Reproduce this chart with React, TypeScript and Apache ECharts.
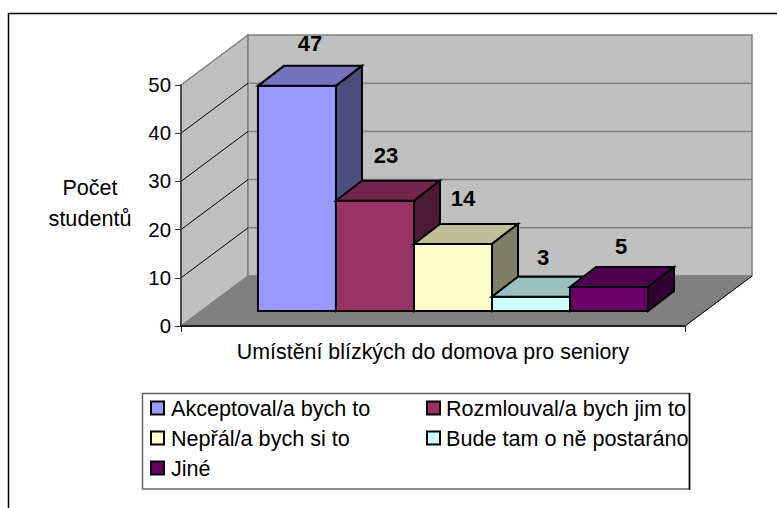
import React, { useEffect, useRef } from "react";
import * as echarts from "echarts";

const FONT = "'Liberation Sans', Arial, sans-serif";
const seriesNames = [
  "Akceptoval/a bych to",
  "Rozmlouval/a bych jim to",
  "Nepřál/a bych si to",
  "Bude tam o ně postaráno",
  "Jiné",
];
const seriesValues = [47, 23, 14, 3, 5];
const seriesColors = ["#9999FF", "#993366", "#FFFFCC", "#CCFFFF", "#660066"];
const categories = ["Umístění blízkých do domova pro seniory"];
const yAxisTitle = "Počet\nstudentů";
const yTickLines = [10, 20, 30, 40];

const WALL_DX = 67;
const WALL_DY = -50;
const BAR_DX = 26;
const BAR_DY = -20;

function shade(hex: string, f: number) {
  const n = parseInt(hex.slice(1), 16);
  const r = Math.round(((n >> 16) & 255) * f);
  const g = Math.round(((n >> 8) & 255) * f);
  const b = Math.round((n & 255) * f);
  return `rgb(${r},${g},${b})`;
}

function poly(points: number[][], fill: string, stroke: string, lineWidth: number) {
  return {
    type: "polygon",
    shape: { points },
    style: { fill, stroke, lineWidth, lineJoin: "miter" },
  };
}

function line(x1: number, y1: number, x2: number, y2: number, stroke: string, lineWidth = 1) {
  return { type: "line", shape: { x1, y1, x2, y2 }, style: { stroke, lineWidth, fill: "none" } };
}

const labelOffsets = [[0, -22], [-2, -25], [-3, -25], [-1, -19], [-1, -21]];

function legendBlock(left: number, data: string[], pad: number) {
  return {
    left,
    top: 397,
    orient: "vertical",
    data,
    itemWidth: 13,
    itemHeight: 13,
    itemGap: 8,
    selectedMode: false,
    icon: "rect",
    itemStyle: { borderColor: "#000", borderWidth: 2 },
    textStyle: { fontSize: 21.6, lineHeight: 22, color: "#000", fontFamily: FONT, padding: [0, 0, 0, pad] },
    padding: 0,
  };
}

function App() {
  const ref = useRef<HTMLDivElement>(null);
  useEffect(() => {
    const chart = echarts.init(ref.current!, null, { renderer: "svg" });
    const wallsSeries = {
      type: "custom",
      name: "walls",
      coordinateSystem: "cartesian2d",
      xAxisIndex: 0,
      yAxisIndex: 0,
      z: 1,
      silent: true,
      data: [[0, 50]],
      renderItem: (_p: any, api: any) => {
        const band = api.size([1, 0])[0];
        const top = api.coord([0, 50]);
        const bot = api.coord([0, 0]);
        const xL = top[0] - band / 2;
        const xR = top[0] + band / 2;
        const yT = top[1];
        const yB = bot[1];
        const children: any[] = [
          poly([[xL, yT], [xL + WALL_DX, yT + WALL_DY], [xL + WALL_DX, yB + WALL_DY], [xL, yB]], "#C0C0C0", "#808080", 1.5),
          poly([[xL + WALL_DX, yT + WALL_DY], [xR + WALL_DX, yT + WALL_DY], [xR + WALL_DX, yB + WALL_DY], [xL + WALL_DX, yB + WALL_DY]], "#C0C0C0", "#808080", 1.5),
          poly([[xL, yB], [xL + WALL_DX, yB + WALL_DY], [xR + WALL_DX, yB + WALL_DY], [xR, yB]], "#808080", "#808080", 1),
          line(xR, yB, xR + WALL_DX, yB + WALL_DY, "#000", 1),
        ];
        yTickLines.forEach((v) => {
          const y = api.coord([0, v])[1];
          children.push(line(xL, y, xL + WALL_DX, y + WALL_DY, "#000", 1));
          children.push(line(xL + WALL_DX, y + WALL_DY, xR + WALL_DX, y + WALL_DY, "#808080", 1.5));
        });
        return { type: "group", children };
      },
    };
    const barSeries = seriesNames.map((name, i) => ({
      type: "custom",
      name,
      coordinateSystem: "cartesian2d",
      xAxisIndex: 1,
      yAxisIndex: 1,
      z: 2 + i * 0.01,
      silent: true,
      itemStyle: { color: seriesColors[i] },
      data: [[0, seriesValues[i]]],
      renderItem: (_p: any, api: any) => {
        const band = api.size([1, 0])[0];
        const w = band / 6.46;
        const top = api.coord([0, api.value(1)]);
        const bot = api.coord([0, 0]);
        const x0 = top[0] - (seriesNames.length / 2) * w + i * w;
        const x1 = x0 + w;
        const c = seriesColors[i];
        return {
          type: "group",
          children: [
            poly([[x0, top[1]], [x1, top[1]], [x1, bot[1]], [x0, bot[1]]], c, "#000", 2),
            poly([[x0, top[1]], [x0 + BAR_DX, top[1] + BAR_DY], [x1 + BAR_DX, top[1] + BAR_DY], [x1, top[1]]], shade(c, 0.75), "#000", 2),
            poly([[x1, top[1]], [x1 + BAR_DX, top[1] + BAR_DY], [x1 + BAR_DX, bot[1] + BAR_DY], [x1, bot[1]]], shade(c, 0.5), "#000", 2),
            {
              type: "text",
              z2: 50,
              style: {
                text: String(seriesValues[i]),
                x: (x0 + x1) / 2 + BAR_DX / 2 + labelOffsets[i][0],
                y: top[1] + BAR_DY + labelOffsets[i][1],
                align: "center",
                verticalAlign: "middle",
                fill: "#000",
                font: `bold 22px ${FONT}`,
              },
            },
          ],
        };
      },
    }));
    chart.setOption({
      animation: false,
      backgroundColor: "#fff",
      textStyle: { fontFamily: FONT },
      grid: [
        { left: 181, right: 92, top: 85, bottom: 182 },
        { left: 201, right: 72, top: 71.5, bottom: 197 },
      ],
      xAxis: [
        {
          type: "category",
          gridIndex: 0,
          data: categories,
          z: 5,
          axisLine: { lineStyle: { color: "#222", width: 2 } },
          axisTick: { show: true, length: 6, lineStyle: { color: "#222" } },
          axisLabel: { show: false },
          name: categories[0],
          nameLocation: "middle",
          nameGap: 15,
          nameTextStyle: { fontSize: 21.4, color: "#000", fontFamily: FONT },
        },
        { type: "category", gridIndex: 1, data: categories, show: false },
      ],
      yAxis: [
        {
          type: "value",
          gridIndex: 0,
          min: 0,
          max: 50,
          interval: 10,
          z: 5,
          axisLine: { show: true, lineStyle: { color: "#333", width: 1.5 } },
          axisTick: { show: true, length: 6, lineStyle: { color: "#333" } },
          axisLabel: { fontSize: 20.4, color: "#000", margin: 10, fontFamily: FONT },
          splitLine: { show: false },
        },
        { type: "value", gridIndex: 1, min: 0, max: 50, interval: 10, show: false },
      ],
      legend: [
        legendBlock(150, [seriesNames[0], seriesNames[2], seriesNames[4]], 2),
        legendBlock(426, [seriesNames[1], seriesNames[3]], 1),
      ],
      graphic: [
        {
          type: "rect",
          silent: true,
          shape: { x: 8.5, y: 13.5, width: 780, height: 520 },
          style: { fill: "none", stroke: "#000", lineWidth: 1.5 },
        },
        {
          type: "rect",
          silent: true,
          shape: { x: 142.5, y: 393.5, width: 547, height: 95.5 },
          style: { fill: "none", stroke: "#666", lineWidth: 1.5 },
        },
        {
          type: "line",
          silent: true,
          shape: { x1: 689.5, y1: 393, x2: 689.5, y2: 489.5 },
          style: { stroke: "#000", lineWidth: 1.5 },
        },
        {
          type: "text",
          silent: true,
          x: 90,
          y: 203,
          style: {
            text: yAxisTitle,
            align: "center",
            verticalAlign: "middle",
            lineHeight: 31,
            fill: "#000",
            font: `21.6px ${FONT}`,
          },
        },
      ],
      series: [wallsSeries, ...barSeries],
    });
    return () => chart.dispose();
  }, []);
  return <div ref={ref} style={{ position: "fixed", left: 0, top: 0, width: 777, height: 508 }} />;
}

export default App;
